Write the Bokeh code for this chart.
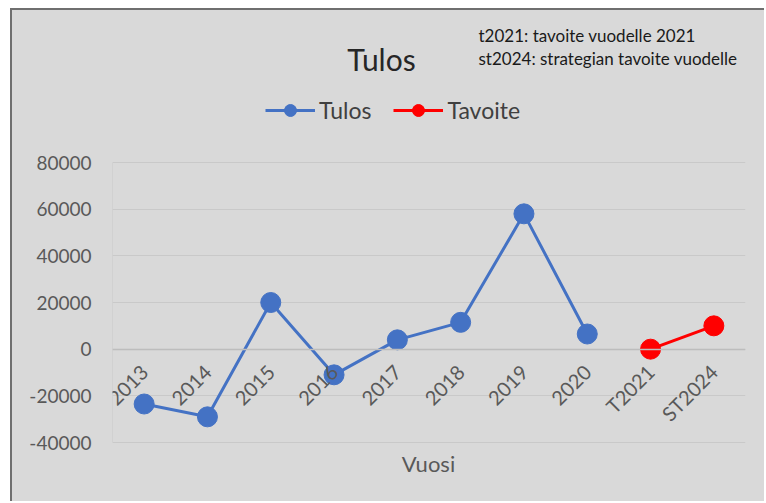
import math
from bokeh.plotting import figure
from bokeh.models import (FactorRange, Range1d, FixedTicker, Label, Legend,
                          LegendItem, ColumnDataSource)
from bokeh.embed import file_html
from bokeh.resources import INLINE

# ---- data ----
categories = ["2013", "2014", "2015", "2016", "2017", "2018", "2019", "2020", "T2021", "ST2024"]
tulos_years = ["2013", "2014", "2015", "2016", "2017", "2018", "2019", "2020"]
tulos_values = [-23500, -29000, 20000, -11000, 4000, 11500, 58000, 6500]
tavoite_years = ["T2021", "ST2024"]
tavoite_values = [0, 10000]
y_ticks = [-40000, -20000, 0, 20000, 40000, 60000, 80000]
y_tick_labels = ["-40000", "-20000", "0", "20000", "40000", "60000", "80000"]

title_text = "Tulos"
note_lines = ["t2021: tavoite vuodelle 2021", "st2024: strategian tavoite vuodelle"]
x_title = "Vuosi"

FONT = "Lato"
BG = "#d9d9d9"

# layout (page pixels): plot area spans y_ticks[0]..y_ticks[-1] between py 442 and 162
PLOT_TOP, PLOT_BOT = 162, 442
CANVAS_TOP, CANVAS_BOT = 10, 503
units_per_px = (y_ticks[-1] - y_ticks[0]) / (PLOT_BOT - PLOT_TOP)
y_start = y_ticks[0] - (CANVAS_BOT - PLOT_BOT) * units_per_px
y_end = y_ticks[-1] + (PLOT_TOP - CANVAS_TOP) * units_per_px

p = figure(x_range=FactorRange(*categories), y_range=Range1d(y_start, y_end),
           width=754, height=493, output_backend="svg", toolbar_location=None,
           min_border_left=100, min_border_right=21, min_border_top=0,
           min_border_bottom=0, background_fill_color=BG, border_fill_color=BG,
           outline_line_color=None)
p.styles = {"margin-left": "10px", "margin-top": "8px", "background-color": BG,
            "border-top": "2px solid #6f6f6f", "border-left": "2px solid #6f6f6f"}

# y axis
p.yaxis.ticker = FixedTicker(ticks=y_ticks)
p.yaxis.major_label_overrides = {t: l for t, l in zip(y_ticks, y_tick_labels)}
p.yaxis.major_tick_line_color = None
p.yaxis.minor_tick_line_color = None
p.yaxis.axis_line_color = None
p.yaxis.major_label_standoff = 15
p.yaxis.major_label_text_font = FONT
p.yaxis.major_label_text_font_size = "19px"
p.yaxis.major_label_text_color = "#595959"

# x axis at zero
p.xaxis.fixed_location = 0
p.xaxis.axis_line_color = "#bdbdbd"
p.xaxis.axis_line_width = 1.5
p.xaxis.major_tick_line_color = None
p.xaxis.minor_tick_line_color = None
p.xaxis.major_label_orientation = math.pi / 4
p.xaxis.major_label_standoff = 13
p.xaxis.major_label_text_font = FONT
p.xaxis.major_label_text_font_size = "20px"
p.xaxis.major_label_text_color = "#595959"

p.xgrid.visible = False
p.ygrid.grid_line_color = "#c9c9c9"
p.ygrid.grid_line_width = 1

# left edge line of the plot area
p.segment(x0=[0], x1=[0], y0=[y_ticks[0]], y1=[y_ticks[-1]],
          line_color="#c9c9c9", line_width=1)

src_t = ColumnDataSource(dict(x=tulos_years, y=tulos_values))
src_g = ColumnDataSource(dict(x=tavoite_years, y=tavoite_values))
l1 = p.line("x", "y", source=src_t, line_color="#4472c4", line_width=3)
m1 = p.scatter("x", "y", source=src_t, size=20, fill_color="#4472c4", line_color="#4472c4")
l2 = p.line("x", "y", source=src_g, line_color="#ff0000", line_width=3)
m2 = p.scatter("x", "y", source=src_g, size=20, fill_color="#ff0000", line_color="#ff0000")

legend = Legend(items=[LegendItem(label="Tulos", renderers=[l1, m1]),
                       LegendItem(label="Tavoite", renderers=[l2, m2])],
                orientation="horizontal", location=(153, 378),
                background_fill_alpha=0, border_line_color=None,
                label_text_font=FONT, label_text_font_size="23px",
                label_text_color="#404040", glyph_width=50, glyph_height=30,
                label_standoff=4, spacing=22, padding=0, margin=0)
p.add_layout(legend, "center")

# page px -> data helpers for annotation placement (layout only)
def dx(px):
    return (px - 112) / 63.3

def dy(py):
    return y_ticks[-1] + (PLOT_TOP - py) * units_per_px

p.add_layout(Label(x=dx(381), y=dy(58), text=title_text, text_align="center",
                   text_baseline="middle", text_font=FONT,
                   text_font_size="30px", text_color="#262626"))
for i, line in enumerate(note_lines):
    p.add_layout(Label(x=dx(478), y=dy(35 + 23 * i), text=line, text_align="left",
                       text_baseline="middle", text_font=FONT,
                       text_font_size="17px", text_color="#1a1a1a"))
p.add_layout(Label(x=dx(428), y=dy(463), text=x_title, text_align="center",
                   text_baseline="middle", text_font=FONT,
                   text_font_size="22px", text_color="#595959"))

open("out.html", "w").write(file_html(p, INLINE))
